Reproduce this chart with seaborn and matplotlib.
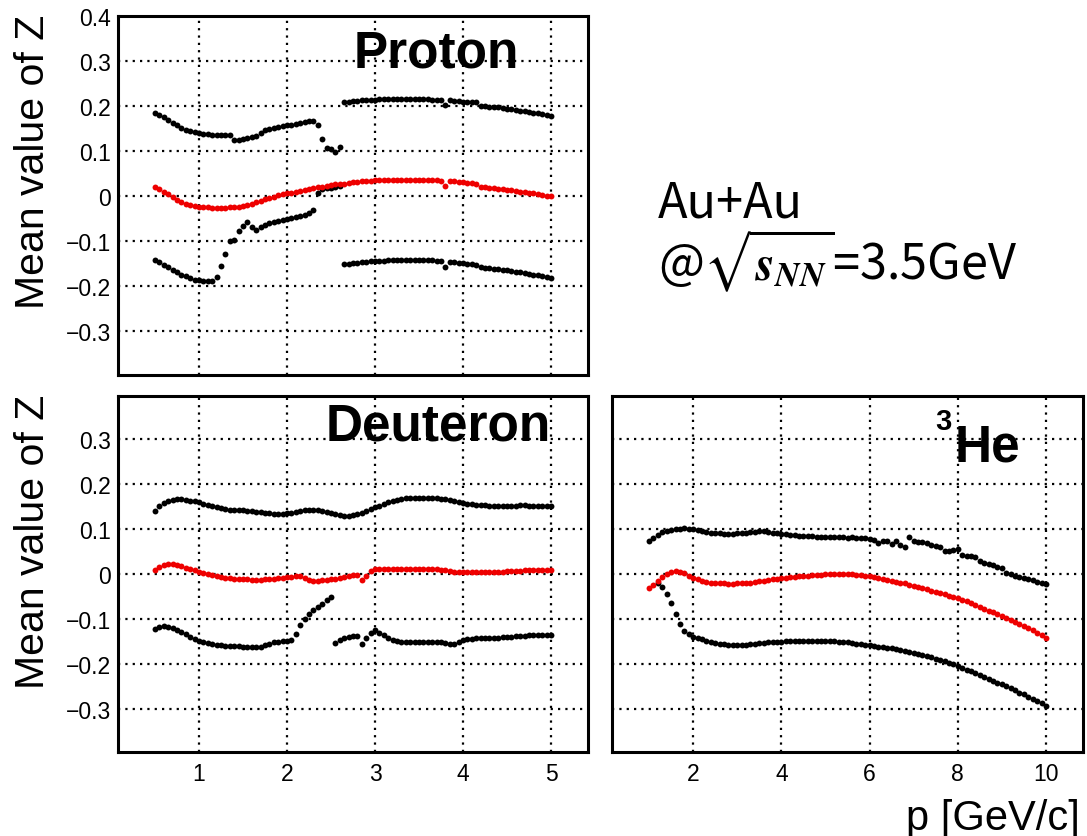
import numpy as np
import pandas as pd
import matplotlib
matplotlib.use("Agg")
import matplotlib.pyplot as plt
from matplotlib.ticker import MultipleLocator, FixedLocator
import seaborn as sns

# ---------------- data ----------------
p_lo = np.round(np.arange(0.50, 5.001, 0.05), 2)   # bin centres, proton & deuteron
p_he = np.round(np.arange(1.0, 10.001, 0.1), 2)    # bin centres, 3He
nan = np.nan

proton_up = [0.185, 0.180, 0.175, 0.169, 0.163, 0.157, 0.152, 0.148, 0.144, 0.142,
             0.140, 0.138, 0.137, 0.136, 0.136, 0.136, 0.136, 0.136, 0.124, 0.125,
             0.127, 0.129, 0.131, 0.134, 0.140, 0.146, 0.149, 0.151, 0.153, 0.155,
             0.157, 0.159, 0.161, 0.163, 0.165, 0.167, 0.166, 0.157, 0.127, 0.106,
             0.104, 0.099, 0.110, 0.209, 0.210, 0.211, 0.212, 0.213, 0.213, 0.214,
             0.214, 0.215, 0.215, 0.215, 0.215, 0.215, 0.215, 0.215, 0.215, 0.215,
             0.215, 0.215, 0.215, 0.214, 0.214, 0.214, 0.203, 0.213, 0.212, 0.211,
             0.210, 0.210, 0.209, 0.208, 0.201, 0.200, 0.199, 0.198, 0.197, 0.196,
             0.194, 0.193, 0.191, 0.190, 0.188, 0.187, 0.185, 0.184, 0.182, 0.180,
             0.179]
proton_mid = [0.021, 0.016, 0.010, 0.004, -0.002, -0.008, -0.013, -0.017, -0.020, -0.022,
              -0.023, -0.024, -0.025, -0.026, -0.026, -0.026, -0.026, -0.025, -0.024, -0.023,
              -0.021, -0.019, -0.017, -0.014, -0.011, -0.007, -0.004, -0.001, 0.002, 0.004,
              0.006, 0.008, 0.010, 0.012, 0.014, 0.016, 0.018, 0.020, 0.021, 0.023,
              0.024, 0.026, 0.027, 0.028, 0.030, 0.031, 0.032, 0.033, 0.034, 0.034,
              0.035, 0.035, 0.036, 0.036, 0.036, 0.037, 0.037, 0.037, 0.037, 0.037,
              0.036, 0.036, 0.036, 0.035, 0.035, 0.034, 0.023, 0.034, 0.033, 0.032,
              0.031, 0.030, 0.029, 0.028, 0.021, 0.020, 0.019, 0.018, 0.017, 0.016,
              0.014, 0.013, 0.012, 0.010, 0.009, 0.007, 0.006, 0.004, 0.003, 0.001,
              0.000]
proton_low = [-0.141, -0.146, -0.152, -0.158, -0.163, -0.169, -0.174, -0.178, -0.182, -0.185,
              -0.187, -0.188, -0.188, -0.188, -0.179, -0.155, -0.129, -0.099, -0.097, -0.078,
              -0.066, -0.057, -0.068, -0.074, -0.068, -0.063, -0.060, -0.058, -0.056, -0.053,
              -0.051, -0.049, -0.047, -0.044, -0.041, -0.038, -0.030, 0.007, 0.015, 0.018,
              0.019, 0.020, 0.022, -0.151, -0.150, -0.149, -0.148, -0.147, -0.146, -0.145,
              -0.144, -0.143, -0.143, -0.142, -0.142, -0.141, -0.141, -0.141, -0.141, -0.141,
              -0.141, -0.142, -0.142, -0.142, -0.143, -0.144, -0.157, -0.146, -0.147, -0.148,
              -0.149, -0.150, -0.151, -0.152, -0.158, -0.159, -0.160, -0.161, -0.162, -0.164,
              -0.165, -0.166, -0.168, -0.169, -0.171, -0.172, -0.174, -0.176, -0.178, -0.179,
              -0.181]

deut_up = [0.139, 0.152, 0.158, 0.163, 0.165, 0.166, 0.166, 0.165, 0.163, 0.161,
           0.159, 0.156, 0.154, 0.151, 0.149, 0.147, 0.145, 0.143, 0.142, 0.141,
           0.141, 0.140, 0.139, 0.138, 0.137, 0.136, 0.135, 0.134, 0.133, 0.134,
           0.135, 0.136, 0.138, 0.140, 0.141, 0.142, 0.142, 0.141, 0.140, 0.138,
           0.136, 0.134, 0.131, 0.129, 0.129, 0.130, 0.133, 0.136, 0.140, 0.144,
           0.148, 0.152, 0.155, 0.159, 0.162, 0.165, 0.167, 0.168, 0.169, 0.169,
           0.169, 0.169, 0.169, 0.169, 0.168, 0.167, 0.166, 0.164, 0.161, 0.159,
           0.157, 0.156, 0.155, 0.154, 0.153, 0.153, 0.152, 0.151, 0.151, 0.150,
           0.151, 0.152, 0.152, 0.153, 0.153, 0.152, 0.152, 0.152, 0.151, 0.151,
           0.151]
deut_mid = [0.008, 0.015, 0.020, 0.022, 0.022, 0.020, 0.017, 0.014, 0.011, 0.008,
            0.005, 0.002, 0.000, -0.002, -0.004, -0.006, -0.008, -0.009, -0.010, -0.011,
            -0.012, -0.012, -0.013, -0.013, -0.013, -0.012, -0.011, -0.010, -0.009, -0.008,
            -0.007, -0.006, -0.005, -0.005, -0.008, -0.013, -0.016, -0.015, -0.014, -0.013,
            -0.012, -0.010, -0.008, -0.006, -0.004, -0.003, -0.002, -0.013, -0.004, 0.006,
            0.010, 0.011, 0.011, 0.011, 0.011, 0.010, 0.010, 0.010, 0.010, 0.010,
            0.010, 0.010, 0.010, 0.010, 0.010, 0.009, 0.008, 0.006, 0.005, 0.005,
            0.005, 0.005, 0.005, 0.005, 0.005, 0.005, 0.005, 0.005, 0.005, 0.005,
            0.006, 0.006, 0.007, 0.007, 0.008, 0.008, 0.008, 0.008, 0.008, 0.008,
            0.008]
deut_low = [-0.121, -0.117, -0.115, -0.117, -0.120, -0.124, -0.129, -0.134, -0.139, -0.144,
            -0.148, -0.151, -0.154, -0.156, -0.157, -0.158, -0.159, -0.160, -0.160, -0.160,
            -0.161, -0.161, -0.162, -0.163, -0.161, -0.158, -0.155, -0.152, -0.150, -0.149,
            -0.148, -0.146, -0.133, -0.113, -0.100, -0.088, -0.080, -0.074, -0.066, -0.058,
            -0.052, -0.154, -0.147, -0.143, -0.140, -0.138, -0.137, -0.156, -0.142, -0.132,
            -0.124, -0.130, -0.136, -0.141, -0.146, -0.149, -0.151, -0.152, -0.152, -0.152,
            -0.152, -0.152, -0.151, -0.151, -0.150, -0.151, -0.153, -0.155, -0.156, -0.152,
            -0.147, -0.145, -0.144, -0.143, -0.143, -0.142, -0.142, -0.141, -0.141, -0.140,
            -0.140, -0.139, -0.138, -0.137, -0.137, -0.136, -0.136, -0.136, -0.136, -0.135,
            -0.135]

he_up = [0.074, 0.080, 0.087, 0.093, 0.096, 0.098, 0.099, 0.100, 0.101, 0.100,
         0.099, 0.097, 0.095, 0.093, 0.092, 0.091, 0.090, 0.089, 0.089, 0.089,
         0.090, 0.091, 0.092, 0.093, 0.094, 0.095, 0.096, 0.094, 0.092, 0.090,
         0.089, 0.088, 0.087, 0.086, 0.085, 0.085, 0.084, 0.084, 0.083, 0.083,
         0.082, 0.082, 0.081, 0.083, 0.081, 0.080, 0.081, 0.080, 0.080, 0.079,
         0.078, 0.076, 0.069, 0.073, 0.074, 0.067, 0.074, 0.064, 0.061, 0.081,
         0.073, 0.071, 0.070, 0.068, 0.065, 0.062, 0.059, 0.052, 0.050, 0.054,
         0.056, 0.043, 0.041, 0.039, 0.037, 0.028, 0.024, 0.022, 0.020, 0.016,
         0.013, 0.003, 0.000, -0.004, -0.007, -0.009, -0.012, -0.014, -0.017, -0.019,
         -0.022]
he_mid = [-0.031, -0.024, -0.015, -0.006, 0.001, 0.005, 0.006, 0.005, 0.002, -0.004,
          -0.009, -0.012, -0.015, -0.017, -0.019, -0.020, -0.021, -0.021, -0.022, -0.022,
          -0.021, -0.021, -0.020, -0.019, -0.018, -0.016, -0.015, -0.013, -0.012, -0.010,
          -0.009, -0.008, -0.007, -0.006, -0.005, -0.004, -0.004, -0.003, -0.002, -0.002,
          -0.001, -0.001, -0.001, 0.000, 0.000, -0.001, -0.001, -0.002, -0.003, -0.004,
          -0.005, -0.006, -0.008, -0.010, -0.013, -0.015, -0.017, -0.019, -0.021, -0.024,
          -0.026, -0.029, -0.031, -0.034, -0.037, -0.040, -0.042, -0.045, -0.048, -0.050,
          -0.053, -0.057, -0.061, -0.065, -0.069, -0.073, -0.077, -0.081, -0.085, -0.089,
          -0.093, -0.097, -0.101, -0.106, -0.110, -0.115, -0.120, -0.125, -0.131, -0.136,
          -0.142]
he_low = [nan, nan, -0.019, -0.028, -0.045, -0.065, -0.089, -0.110, -0.126, -0.133,
          -0.139, -0.142, -0.145, -0.149, -0.152, -0.154, -0.155, -0.156, -0.157, -0.158,
          -0.158, -0.157, -0.157, -0.156, -0.155, -0.154, -0.153, -0.152, -0.151, -0.150,
          -0.150, -0.149, -0.149, -0.148, -0.148, -0.148, -0.148, -0.148, -0.148, -0.148,
          -0.148, -0.149, -0.149, -0.150, -0.151, -0.152, -0.153, -0.155, -0.156, -0.157,
          -0.158, -0.159, -0.161, -0.162, -0.164, -0.165, -0.167, -0.169, -0.171, -0.174,
          -0.176, -0.178, -0.180, -0.183, -0.185, -0.188, -0.191, -0.194, -0.197, -0.200,
          -0.204, -0.208, -0.212, -0.216, -0.220, -0.225, -0.229, -0.233, -0.237, -0.241,
          -0.245, -0.249, -0.254, -0.258, -0.263, -0.267, -0.272, -0.277, -0.282, -0.287,
          -0.293]

y_ticks = [-0.3, -0.2, -0.1, 0.0, 0.1, 0.2, 0.3, 0.4]
y_ticklabels = ["\u22120.3", "\u22120.2", "\u22120.1", "0", "0.1", "0.2", "0.3", "0.4"]
lo_xticks = [1, 2, 3, 4, 5]
he_xticks = [2, 4, 6, 8, 10]

# ---------------- style ----------------
sns.set_style("white")
plt.rcParams["font.family"] = ["Liberation Sans", "DejaVu Sans"]
plt.rcParams["mathtext.fontset"] = "stix"
for key in ("text.color", "axes.labelcolor", "xtick.color", "ytick.color"):
    plt.rcParams[key] = "black"

W, H = 1087, 837
fig = plt.figure(figsize=(W / 100, H / 100), dpi=100)
fig.patch.set_facecolor("white")

def fx(px):
    return px / W

def fy(py):
    return 1 - py / H

ax_p = fig.add_axes([fx(118), fy(376), fx(588 - 118), (376 - 17) / H])
ax_d = fig.add_axes([fx(118), fy(753), fx(588 - 118), (753 - 397) / H])
ax_h = fig.add_axes([fx(612), fy(753), fx(1083 - 612), (753 - 397) / H])

def draw(ax, x, up, mid, low):
    df = pd.DataFrame({"p": x, "up": up, "mid": mid, "low": low})
    for col, c in (("up", "black"), ("low", "black"), ("mid", "#ee0000")):
        sns.scatterplot(data=df, x="p", y=col, ax=ax, color=c, s=18,
                        linewidth=0, legend=False, zorder=3)

draw(ax_p, p_lo, proton_up, proton_mid, proton_low)
draw(ax_d, p_lo, deut_up, deut_mid, deut_low)
draw(ax_h, p_he, he_up, he_mid, he_low)

ax_p.set_xlim(0.08, 5.42)
ax_d.set_xlim(0.08, 5.42)
ax_h.set_xlim(0.16, 10.84)
ax_p.set_ylim(-0.397, 0.40)
ax_d.set_ylim(-0.395, 0.395)
ax_h.set_ylim(-0.395, 0.395)

for ax in (ax_p, ax_d, ax_h):
    ax.set_xlabel("")
    ax.set_ylabel("")
    ax.set_facecolor("white")
    for sp in ax.spines.values():
        sp.set_visible(True)
        sp.set_linewidth(2.2)
        sp.set_color("black")
        sp.set_zorder(5)
    ax.grid(True, which="major", color="black", linestyle=(0, (1, 2.3)),
            linewidth=1.6)
    ax.set_axisbelow(True)
    ax.tick_params(axis="both", which="both", direction="in", top=False,
                   right=False, color="black", width=1.6, labelsize=16.5,
                   labelcolor="black")
    ax.tick_params(axis="y", which="major", length=11, pad=5)
    ax.tick_params(axis="y", which="minor", length=5.5)
    ax.tick_params(axis="x", which="major", length=7, pad=7)
    ax.tick_params(axis="x", which="minor", length=3.5)
    ax.yaxis.set_major_locator(FixedLocator(y_ticks))
    ax.yaxis.set_minor_locator(MultipleLocator(0.02))

for ax in (ax_p, ax_d):
    ax.xaxis.set_major_locator(FixedLocator(lo_xticks))
    ax.xaxis.set_minor_locator(MultipleLocator(0.2))
ax_h.xaxis.set_major_locator(FixedLocator(he_xticks))
ax_h.xaxis.set_minor_locator(MultipleLocator(0.5))

ax_p.set_yticklabels(y_ticklabels)
ax_d.set_yticklabels(y_ticklabels[:-1] + [""])
ax_h.set_yticklabels([])
ax_p.set_xticklabels([])
ax_d.set_xticklabels([str(v) for v in lo_xticks])
ax_h.set_xticklabels([str(v) for v in he_xticks])

# axis titles
fig.text(fx(33), fy(162), "Mean value of Z", rotation=90, ha="center",
         va="center", fontsize=29.5, color="black")
fig.text(fx(33), fy(542), "Mean value of Z", rotation=90, ha="center",
         va="center", fontsize=29.5, color="black")
fig.text(fx(1080), fy(830), "p [GeV/c]", ha="right", va="baseline",
         fontsize=30, color="black")

# panel labels
fig.text(fx(519), fy(67), "Proton", ha="right", va="baseline", fontsize=37,
         fontweight="bold", color="black")
fig.text(fx(551), fy(441), "Deuteron", ha="right", va="baseline", fontsize=37,
         fontweight="bold", color="black")
fig.text(fx(1020), fy(462), "He", ha="right", va="baseline", fontsize=37,
         fontweight="bold", color="black")
fig.text(fx(935), fy(430), "3", ha="left", va="baseline", fontsize=21,
         fontweight="bold", color="black")

# collision system
fig.text(fx(658), fy(217), "Au+Au", ha="left", va="baseline", fontsize=35,
         fontweight="medium", color="black",
         family=["Noto Sans CJK SC", "DejaVu Sans"])
fig.text(fx(658), fy(280), r"@$\sqrt{\mathbfit{s}_{\mathbfit{NN}}}$=3.5GeV",
         ha="left", va="baseline", fontsize=35, fontweight="medium",
         color="black", family=["Noto Sans CJK SC", "DejaVu Sans"])

fig.savefig("out.png", dpi=100, facecolor="white")
